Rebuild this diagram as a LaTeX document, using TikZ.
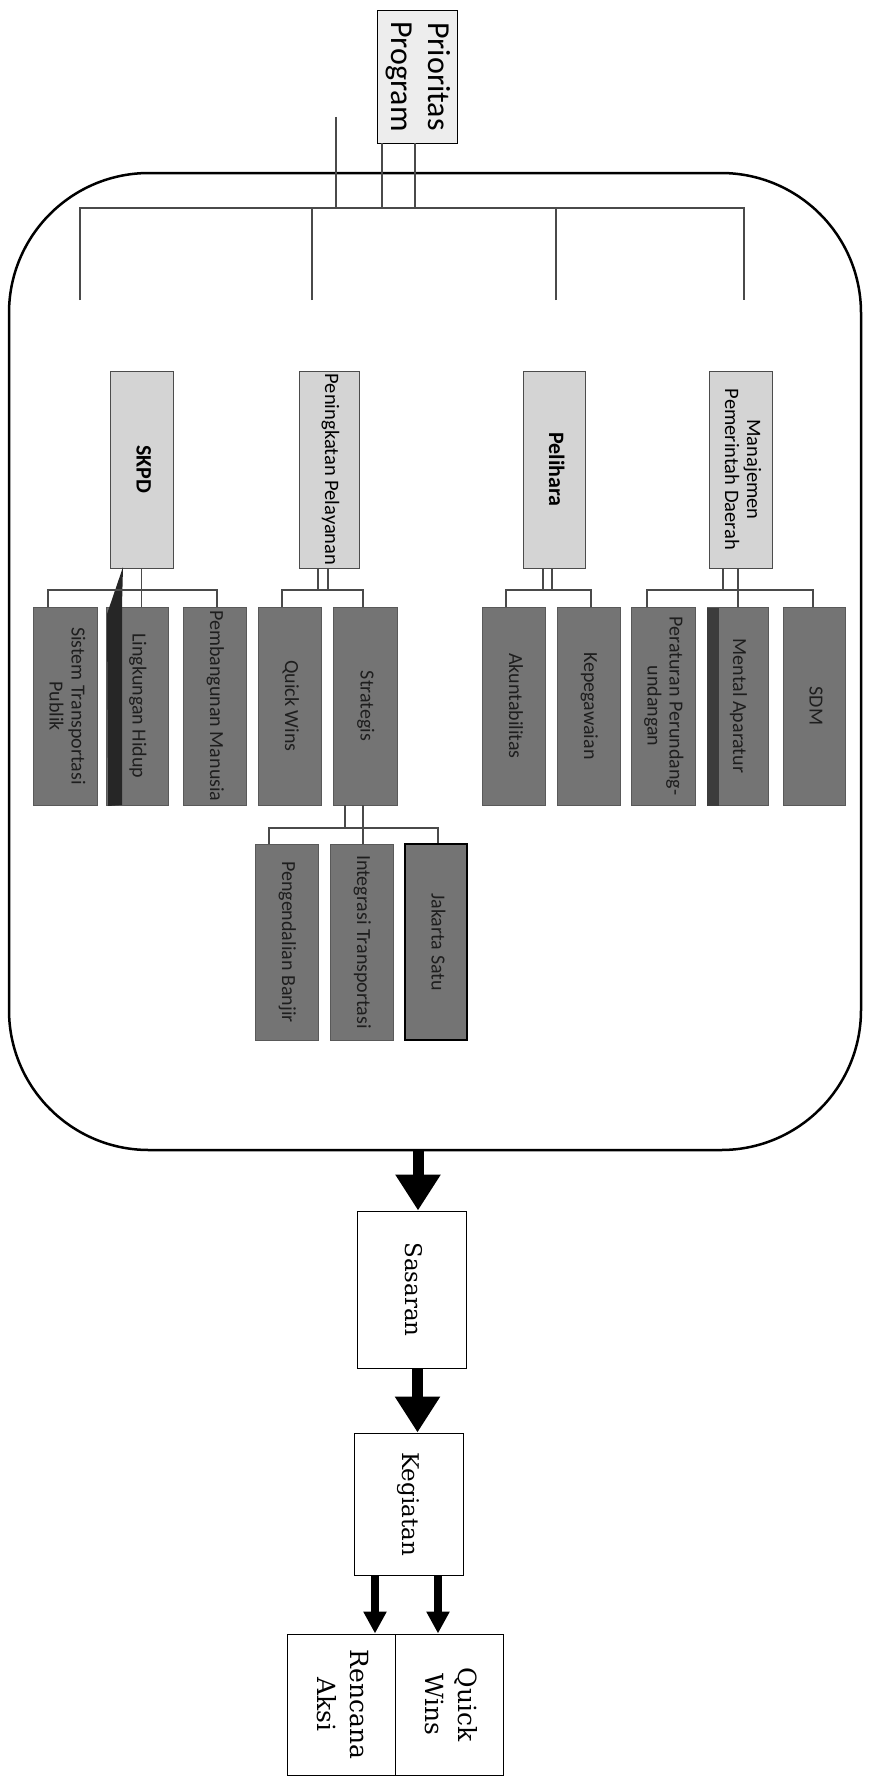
\documentclass[tikz,border=0pt]{standalone}
\usepackage{fontspec}
\usepackage{graphicx}
\setmainfont{DejaVu Serif}
\newfontfamily\carl{Carlito}
\usetikzlibrary{arrows.meta,calc}
\definecolor{lightbox}{HTML}{D4D4D4}
\definecolor{darkbox}{HTML}{747474}
\definecolor{darktext}{HTML}{1E1E1E}
\definecolor{conncol}{HTML}{4A4A4A}
\definecolor{shadowcol}{HTML}{262626}
\newcommand\vtxt[1]{\rotatebox{-90}{\begin{tabular}{@{}c@{}}#1\end{tabular}}}
\tikzset{
  toplabel/.style={draw=black, line width=0.9, fill=gray!14, font=\carl\fontsize{32}{37}\selectfont, inner sep=0},
  lvltwo/.style={draw=gray!60!black, line width=0.8, fill=lightbox, font=\carl\fontsize{20.5}{22}\selectfont, minimum height=197, inner sep=0},
  boldtwo/.style={font=\carl\bfseries\fontsize{22}{24}\selectfont},
  lvlthree/.style={draw=black!65, line width=0.8, fill=darkbox, text=darktext, font=\carl\fontsize{20}{22}\selectfont, minimum height=198, inner sep=0},
  flowbox/.style={draw=black, line width=1, fill=white, font=\fontsize{25}{33}\selectfont, inner sep=0},
  flowsmall/.style={font=\fontsize{23}{28}\selectfont},
  conn/.style={draw=conncol, line width=1.4},
  bigarrow/.style={draw=black, line width=11, -{Triangle[width=43pt,length=36pt]}},
  smallarrow/.style={draw=black, line width=8, -{Triangle[width=22pt,length=22pt]}},
}
\begin{document}
\begin{tikzpicture}[x=1pt,y=-1pt]
\useasboundingbox (0,0) rectangle (868,1782);

% outer frame
\node[draw=black, line width=2.5, rounded corners=140, minimum width=852, minimum height=977, inner sep=0] (frame) at (435,661.5) {};

% top label
\node[toplabel, minimum width=80, minimum height=133] (prio) at (417,76.5) {\vtxt{Prioritas\\Program}};

% level two
\node[lvltwo, boldtwo, minimum width=63] (skpd) at (141.5,469.5) {\vtxt{SKPD}};
\node[lvltwo, minimum width=60] (pen) at (329.5,469.5) {\vtxt{Peningkatan Pelayanan}};
\node[lvltwo, boldtwo, minimum width=62] (pel) at (554,469.5) {\vtxt{Pelihara}};
\node[lvltwo, minimum width=63] (man) at (740.5,469.5) {\vtxt{Manajemen\\Pemerintah Daerah}};

% level three
\node[lvlthree, minimum width=64] (sistem) at (65,706) {\vtxt{Sistem Transportasi\\Publik}};
\node[lvlthree, minimum width=62] (lingk) at (137,706) {\vtxt{Lingkungan Hidup}};
\node[lvlthree, minimum width=63] (pemb) at (214.5,706) {\vtxt{Pembangunan Manusia}};
\node[lvlthree, minimum width=63] (qw) at (289.5,706) {\vtxt{Quick Wins}};
\node[lvlthree, minimum width=64] (strat) at (365,706) {\vtxt{Strategis}};
\node[lvlthree, minimum width=63] (akun) at (513.5,706) {\vtxt{Akuntabilitas}};
\node[lvlthree, minimum width=63] (kepeg) at (588.5,706) {\vtxt{Kepegawaian}};
\node[lvlthree, minimum width=64] (per) at (663,706) {\vtxt{Peraturan Perundang-\\undangan}};
\node[lvlthree, minimum width=61] (mental) at (737.5,706) {\vtxt{Mental Aparatur}};
\node[lvlthree, minimum width=62] (sdm) at (814,706) {\vtxt{SDM}};

% level four
\node[lvlthree, minimum width=63, minimum height=196] (peng) at (286.5,942) {\vtxt{Pengendalian Banjir}};
\node[lvlthree, minimum width=63, minimum height=196] (integ) at (361.5,942) {\vtxt{Integrasi Transportasi}};
\node[lvlthree, draw=black, line width=1.2, minimum width=62, minimum height=196] (jak) at (436,942) {\vtxt{Jakarta Satu}};

% dark scan shadows
\fill[shadowcol] (123,567) -- (122,606) -- (122,805) -- (108,806) -- (107,614) -- cycle;
\fill[shadowcol!90] (707,608) rectangle (719,806);

% top connectors
\coordinate (topbar) at (0,208);
\coordinate (stub) at (336,117);
\coordinate (d1) at (80,300);
\coordinate (d2) at (312,300);
\coordinate (d3) at (556,300);
\coordinate (d4) at (744,300);
\draw[conn] ([xshift=-35]prio.south) -- ([xshift=-35]prio.south |- topbar);
\draw[conn] ([xshift=-2]prio.south) -- ([xshift=-2]prio.south |- topbar);
\draw[conn] (stub) -- (stub |- topbar);
\draw[conn] (d1) |- (d4 |- topbar) -- (d4);
\draw[conn] (d2) -- (d2 |- topbar);
\draw[conn] (d3) -- (d3 |- topbar);

% SKPD group
\coordinate (barS) at (0,590);
\draw[conn] (skpd.south) -- (skpd.south |- lingk.north);
\draw[conn] ([xshift=-17]sistem.north) |- ([xshift=2.5]pemb.north |- barS) -- ([xshift=2.5]pemb.north);

% Peningkatan group
\draw[conn] ([xshift=-11.5]pen.south) -- ([xshift=-11.5]pen.south |- barS);
\draw[conn] ([xshift=-1.5]pen.south) -- ([xshift=-1.5]pen.south |- barS);
\draw[conn] ([xshift=-7.5]qw.north) |- ([xshift=-2]strat.north |- barS) -- ([xshift=-2]strat.north);

% Pelihara group
\draw[conn] ([xshift=-11]pel.south) -- ([xshift=-11]pel.south |- barS);
\draw[conn] ([xshift=-2]pel.south) -- ([xshift=-2]pel.south |- barS);
\draw[conn] ([xshift=-7.5]akun.north) |- ([xshift=2.5]kepeg.north |- barS) -- ([xshift=2.5]kepeg.north);

% Manajemen group
\draw[conn] ([xshift=-17.5]man.south) -- ([xshift=-17.5]man.south |- barS);
\draw[conn] ([xshift=-2.5]man.south) -- ([xshift=-2.5]man.south |- barS);
\draw[conn] ([xshift=-16]per.north) |- ([xshift=-1]sdm.north |- barS) -- ([xshift=-1]sdm.north);
\draw[conn] ([xshift=0.5]mental.north) -- ([xshift=0.5]mental.north |- barS);

% Strategis group
\coordinate (barT) at (0,828);
\draw[conn] ([xshift=-20]strat.south) -- ([xshift=-20]strat.south |- barT);
\draw[conn] ([xshift=-2]strat.south) -- ([xshift=-2]strat.south |- barT);
\draw[conn] ([xshift=-17.5]peng.north) |- ([xshift=2]jak.north |- barT) -- ([xshift=2]jak.north);
\draw[conn] ([xshift=1.5]integ.north) -- ([xshift=1.5]integ.north |- barT);

% flow part
\node[flowbox, flowsmall, minimum width=109, minimum height=157] (sas) at (411.5,1289.5) {\vtxt{Sasaran\hspace{40pt}}};
\node[flowbox, flowsmall, minimum width=109, minimum height=142] (keg) at (408.5,1504) {\vtxt{Kegiatan\hspace{24pt}}};
\node[flowbox, minimum width=108, minimum height=141] (ra) at (341,1704.5) {\vtxt{Rencana\\Aksi}};
\node[flowbox, minimum width=108, minimum height=141] (qwin) at (449,1704.5) {\vtxt{Quick\\Wins}};

\draw[bigarrow] ([xshift=6.5]sas.north |- frame.south) -- ([xshift=6.5]sas.north);
\draw[bigarrow] ([xshift=6]sas.south) -- ([xshift=6]sas.south |- keg.north);
\draw[smallarrow] ([xshift=-33.5]keg.south) -- ([xshift=-33.5]keg.south |- ra.north);
\draw[smallarrow] ([xshift=29.5]keg.south) -- ([xshift=29.5]keg.south |- qwin.north);
\end{tikzpicture}
\end{document}
